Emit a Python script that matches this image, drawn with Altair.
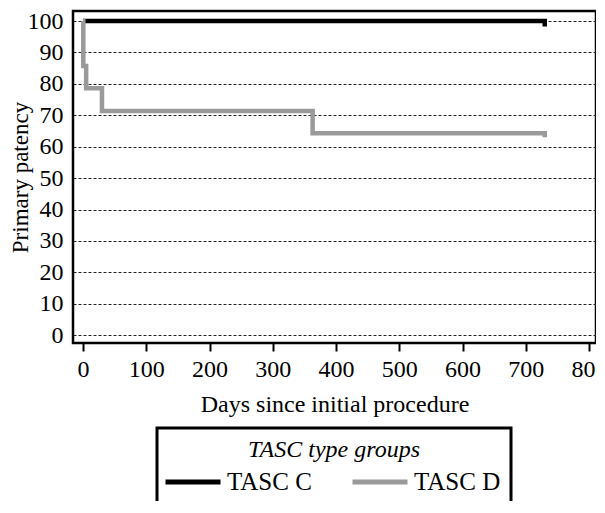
import altair as alt
import pandas as pd

groups = ["TASC C", "TASC D"]
days_c = [0, 730, 730]
patency_c = [100, 100, 98.3]
days_d = [0, 0.5, 5, 30, 363, 730, 730]
patency_d = [100, 85.7, 78.6, 71.4, 64.3, 64.3, 63.0]
y_ticks = [0, 10, 20, 30, 40, 50, 60, 70, 80, 90, 100]
x_ticks = [0, 100, 200, 300, 400, 500, 600, 700, 800]

rows = []
for g, ds, ps in [(groups[0], days_c, patency_c), (groups[1], days_d, patency_d)]:
    for i, (d, p) in enumerate(zip(ds, ps)):
        rows.append({"group": g, "day": d, "patency": p, "idx": i})
df = pd.DataFrame(rows)

FONT = "Liberation Serif"

chart = alt.Chart(df).mark_line(interpolate="step-after", strokeWidth=4.5).encode(
    x=alt.X("day:Q", scale=alt.Scale(domain=[-15.8, 811], nice=False, zero=False),
            axis=alt.Axis(values=x_ticks, title="Days since initial procedure", grid=False,
                          domain=False, tickSize=8, tickWidth=2, tickColor="black",
                          labelPadding=6, titlePadding=11)),
    y=alt.Y("patency:Q", scale=alt.Scale(domain=[-2.5, 103.2], nice=False, zero=False),
            axis=alt.Axis(values=y_ticks, title="Primary patency", grid=True,
                          gridDash=[3, 2], gridColor="#222", gridWidth=1,
                          domain=False, ticks=False, labelPadding=10, titlePadding=-5,
                          titleFontSize=23)),
    color=alt.Color("group:N", scale=alt.Scale(domain=groups, range=["black", "#9a9a9a"]),
                    legend=alt.Legend(title="TASC type groups", orient="none",
                                      legendX=84, legendY=417, direction="horizontal",
                                      titleAnchor="middle", titleOrient="top",
                                      titlePadding=5,
                                      symbolType="M-2.2,0H2.2", symbolSize=625,
                                      symbolOffset=11,
                                      symbolStrokeWidth=5, labelOffset=19,
                                      columnPadding=30, padding=10,
                                      strokeColor="black", fillColor="white")),
    order=alt.Order("idx:Q"),
    detail="group:N",
).properties(
    width=523, height=332,
    autosize=alt.AutoSizeParams(type="none"),
    padding={"left": 65, "top": 3, "right": 0, "bottom": 158},
).configure_view(
    stroke="black", strokeWidth=2.5
).configure_axis(
    labelFont=FONT, titleFont=FONT, labelFontSize=24, titleFontSize=24,
    labelColor="black", titleColor="black", titleFontWeight="normal",
).configure_legend(
    labelFont=FONT, titleFont=FONT, labelFontSize=25, titleFontSize=24,
    titleFontStyle="italic", titleFontWeight="normal", labelColor="black",
    titleColor="black", strokeWidth=3,
)

chart.save("out.html", embed_options={"renderer": "svg", "actions": False})
